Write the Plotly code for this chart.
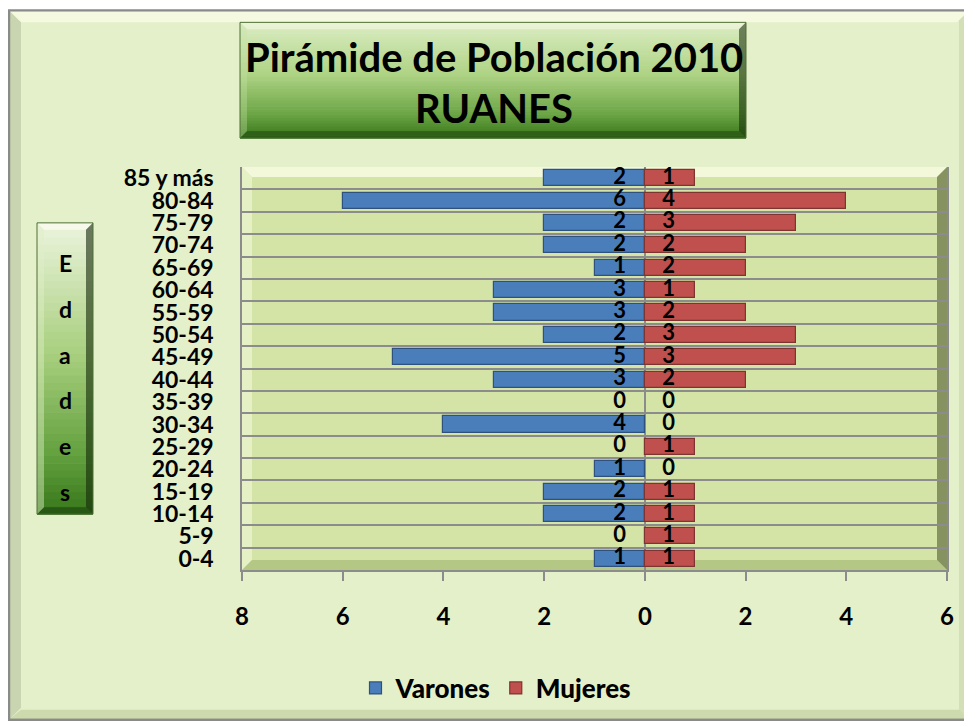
import plotly.graph_objects as go
import numpy as np

# ---------------- data ----------------
edades = ["0-4", "5-9", "10-14", "15-19", "20-24", "25-29", "30-34", "35-39",
          "40-44", "45-49", "50-54", "55-59", "60-64", "65-69", "70-74",
          "75-79", "80-84", "85 y más"]
varones = [1, 0, 2, 2, 1, 0, 4, 0, 3, 5, 2, 3, 3, 1, 2, 2, 6, 2]
mujeres = [1, 1, 1, 1, 0, 1, 0, 0, 2, 3, 3, 2, 1, 2, 2, 3, 4, 1]
x_ticks = [-8, -6, -4, -2, 0, 2, 4, 6]
x_ticktext = ["8", "6", "4", "2", "0", "2", "4", "6"]
title_lines = ["Pirámide de Población 2010", "RUANES"]
axis_letters = list("Edades")

# ---------------- layout geometry (screen px; page has an 8px body margin) ----------------
OFF = 8
SCR_W, SCR_H = 972, 722
W_FIG, H_FIG = SCR_W - OFF, SCR_H - OFF
L, R, T, B = 242, 947, 167, 571
PW, PH = R - L, B - T
FONT = "Lato"


def px_x(p):
    return (p - L) / PW


def px_y(p):
    return (B - p) / PH


def hex2rgb(h):
    h = h.lstrip("#")
    return np.array([int(h[i:i + 2], 16) for i in (0, 2, 4)], dtype=float)


def grad(stops, t):
    for (p0, c0), (p1, c1) in zip(stops[:-1], stops[1:]):
        if p0 <= t <= p1:
            f = (t - p0) / (p1 - p0) if p1 > p0 else 0
            c = hex2rgb(c0) * (1 - f) + hex2rgb(c1) * f
            return "rgb(%d,%d,%d)" % tuple(c.round())
    c = hex2rgb(stops[-1][1])
    return "rgb(%d,%d,%d)" % tuple(c.round())


def rect(x0, y0, x1, y1, fill, line=None, lw=0):
    return dict(type="rect", xref="paper", yref="paper",
                x0=px_x(x0), x1=px_x(x1), y0=px_y(y1), y1=px_y(y0),
                fillcolor=fill, layer="below",
                line=dict(color=line if line else "rgba(0,0,0,0)", width=lw))


def poly(pts, fill):
    path = "M " + " L ".join("%f,%f" % (px_x(a), px_y(b)) for a, b in pts) + " Z"
    return dict(type="path", xref="paper", yref="paper", path=path,
                fillcolor=fill, line=dict(width=0), layer="below")


shapes = []
# outer chart frame
fx0, fy0, fx1, fy1 = 9, 10, 969, 721
shapes.append(rect(fx0, fy0, fx1, fy1, "#E4F0C9", "#8A8A8A", 2.5))
shapes.append(poly([(fx0 + 1, fy0 + 1), (fx1 - 1, fy0 + 1), (fx1 - 12, fy0 + 12), (fx0 + 12, fy0 + 12)], "rgba(255,255,240,0.6)"))
shapes.append(poly([(fx0 + 1, fy0 + 1), (fx0 + 12, fy0 + 12), (fx0 + 12, fy1 - 12), (fx0 + 1, fy1 - 1)], "rgba(140,150,120,0.30)"))
shapes.append(poly([(fx1 - 1, fy0 + 1), (fx1 - 1, fy1 - 1), (fx1 - 10, fy1 - 10), (fx1 - 10, fy0 + 10)], "rgba(150,165,120,0.22)"))
shapes.append(poly([(fx0 + 1, fy1 - 1), (fx1 - 1, fy1 - 1), (fx1 - 10, fy1 - 10), (fx0 + 12, fy1 - 10)], "rgba(150,170,110,0.30)"))

# plot area background with bevel
shapes.append(rect(L, T, R, B, "#D4E4A7"))
shapes.append(poly([(L, T), (R, T), (R - 10, T + 10), (L + 10, T + 10)], "rgba(255,255,235,0.75)"))
shapes.append(poly([(L, T), (L + 10, T + 10), (L + 10, B - 10), (L, B)], "rgba(240,248,215,0.6)"))
shapes.append(poly([(R, T), (R, B), (R - 10, B - 10), (R - 10, T + 10)], "rgba(70,80,40,0.55)"))
shapes.append(poly([(L, B), (R, B), (R - 10, B - 10), (L + 10, B - 10)], "rgba(150,170,100,0.5)"))

n = 40
# title box gradient
tx0, ty0, tx1, ty1 = 240, 22, 746, 138
tstops = [(0, "#DCEDC4"), (0.45, "#AED384"), (0.8, "#6AA444"), (1, "#37761A")]
for i in range(n):
    a = ty0 + (ty1 - ty0) * i / n
    b = ty0 + (ty1 - ty0) * (i + 1) / n + 0.6
    shapes.append(rect(tx0, a, tx1, b, grad(tstops, (i + 0.5) / n)))
shapes.append(poly([(tx0, ty0), (tx1, ty0), (tx1 - 7, ty0 + 7), (tx0 + 7, ty0 + 7)], "rgba(245,250,230,0.55)"))
shapes.append(poly([(tx1, ty0), (tx1, ty1), (tx1 - 7, ty1 - 7), (tx1 - 7, ty0 + 7)], "rgba(20,40,10,0.55)"))
shapes.append(poly([(tx0, ty1), (tx1, ty1), (tx1 - 7, ty1 - 7), (tx0 + 7, ty1 - 7)], "rgba(20,50,10,0.40)"))
shapes.append(poly([(tx0, ty0), (tx0 + 7, ty0 + 7), (tx0 + 7, ty1 - 7), (tx0, ty1)], "rgba(200,225,170,0.35)"))
shapes.append(rect(tx0, ty0, tx1, ty1, "rgba(0,0,0,0)", "#4E6E36", 1))

# "Edades" box gradient
ex0, ey0, ex1, ey1 = 37, 223, 93, 515
estops = [(0, "#ECF4DE"), (0.45, "#A8CF7E"), (0.8, "#62A03E"), (1, "#37761A")]
for i in range(n):
    a = ey0 + (ey1 - ey0) * i / n
    b = ey0 + (ey1 - ey0) * (i + 1) / n + 0.6
    shapes.append(rect(ex0, a, ex1, b, grad(estops, (i + 0.5) / n)))
shapes.append(poly([(ex0, ey0), (ex1, ey0), (ex1 - 7, ey0 + 7), (ex0 + 7, ey0 + 7)], "rgba(255,255,245,0.6)"))
shapes.append(poly([(ex1, ey0), (ex1, ey1), (ex1 - 7, ey1 - 7), (ex1 - 7, ey0 + 7)], "rgba(20,40,10,0.6)"))
shapes.append(poly([(ex0, ey1), (ex1, ey1), (ex1 - 7, ey1 - 7), (ex0 + 7, ey1 - 7)], "rgba(20,50,10,0.45)"))
shapes.append(poly([(ex0, ey0), (ex0 + 7, ey0 + 7), (ex0 + 7, ey1 - 7), (ex0, ey1)], "rgba(225,240,200,0.45)"))
shapes.append(rect(ex0, ey0, ex1, ey1, "rgba(0,0,0,0)", "#4E6E36", 1))

# ---------------- traces ----------------
ypos = list(range(len(edades)))
fig = go.Figure()
fig.add_trace(go.Bar(
    y=ypos, x=[-v for v in varones], orientation="h", name="Varones",
    width=0.72,
    marker=dict(color="#4A7EBB",
                line=dict(color="#2E527D", width=[1.2 if v else 0 for v in varones])),
    hoverinfo="skip"))
fig.add_trace(go.Bar(
    y=ypos, x=mujeres, orientation="h", name="Mujeres",
    width=0.72,
    marker=dict(color="#C0504D",
                line=dict(color="#7E3431", width=[1.2 if v else 0 for v in mujeres])),
    hoverinfo="skip"))

lab_font = dict(family=FONT, size=22, color="black", weight="bold")
fig.add_trace(go.Scatter(
    y=ypos, x=[-0.5] * len(edades), mode="text", text=[str(v) for v in varones],
    textfont=lab_font, showlegend=False, hoverinfo="skip"))
fig.add_trace(go.Scatter(
    y=ypos, x=[0.47] * len(edades), mode="text", text=[str(v) for v in mujeres],
    textfont=lab_font, showlegend=False, hoverinfo="skip"))

# ---------------- annotations ----------------
ann = []
for txt, yy in zip(title_lines, [57, 108]):
    ann.append(dict(text="<b>%s</b>" % txt, x=px_x(494), y=px_y(yy), xref="paper", yref="paper",
                    showarrow=False, font=dict(family=FONT, size=40, color="black"),
                    xanchor="center", yanchor="middle"))
for i, ch in enumerate(axis_letters):
    ann.append(dict(text="<b>%s</b>" % ch, x=px_x(65), y=px_y(263 + 46 * i), xref="paper", yref="paper",
                    showarrow=False, font=dict(family=FONT, size=23, color="black"),
                    xanchor="center", yanchor="middle"))

fig.update_layout(
    width=W_FIG, height=H_FIG,
    margin=dict(l=L - OFF, r=SCR_W - R, t=T - OFF, b=SCR_H - B, pad=0),
    paper_bgcolor="white", plot_bgcolor="rgba(0,0,0,0)",
    barmode="overlay", bargap=0,
    shapes=shapes, annotations=ann,
    showlegend=True,
    legend=dict(orientation="h", x=px_x(496), y=px_y(688), xanchor="center", yanchor="middle",
                font=dict(family=FONT, size=26, color="black", weight=900),
                bgcolor="rgba(0,0,0,0)", itemwidth=30, traceorder="normal"),
    font=dict(family=FONT, color="black"),
)
fig.update_xaxes(
    range=[-8, 6], tickvals=x_ticks, ticktext=x_ticktext,
    showgrid=False, zeroline=True, zerolinecolor="#8C8C8C", zerolinewidth=1.5,
    showline=True, linecolor="#8C8C8C", linewidth=1.5,
    ticks="outside", ticklen=9, tickcolor="#8C8C8C", tickwidth=1.5,
    ticklabelstandoff=15,
    tickfont=dict(family=FONT, size=24, color="black", weight="bold"),
    fixedrange=True)
fig.update_yaxes(
    range=[-0.5, len(edades) - 0.5], tickvals=ypos, ticktext=edades,
    showgrid=False, zeroline=False,
    showline=True, mirror=True, linecolor="#8C8C8C", linewidth=1.5,
    ticks="", ticklabelstandoff=22,
    minor=dict(tick0=0.5, dtick=1, showgrid=True, gridcolor="#8C8C8C", gridwidth=1.5, ticks=""),
    tickfont=dict(family=FONT, size=23, color="black", weight="bold"),
    fixedrange=True)

fig.write_html("out.html")
